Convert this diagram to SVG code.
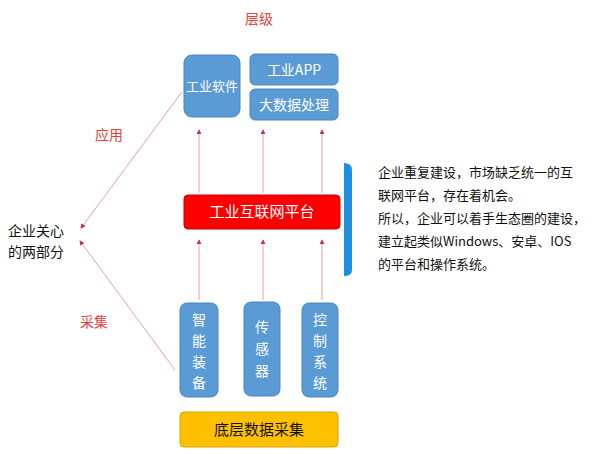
<svg xmlns="http://www.w3.org/2000/svg" width="600" height="454" viewBox="0 0 600 454">
<style>
text{font-family:"Noto Sans CJK SC","Liberation Sans",sans-serif}
.b{fill:#5b9bd5;stroke:#4a86c0;stroke-width:1}
.w{fill:#fff;font-size:14px;text-anchor:middle}
.r{fill:#e0403a;font-size:14px}
.k{fill:#111;font-size:13px}
.c line{stroke:#e8a0a8;stroke-width:1;marker-end:url(#a)}
</style>
<defs><marker id="a" viewBox="0 0 6 6" refX="5" refY="3" markerWidth="5" markerHeight="5" orient="auto"><path d="M0,0L6,3L0,6z" fill="#c0304a"/></marker></defs>
<rect width="600" height="454" fill="#fff"/>
<text class="r" x="245" y="24">层级</text>
<text class="r" x="95" y="140">应用</text>
<text class="r" x="80" y="327">采集</text>
<g id="left"><text class="k" x="8" y="236" style="font-size:14px">企业关心</text><text class="k" x="8" y="257" style="font-size:14px">的两部分</text></g>
<g class="c">
<line x1="199" y1="193" x2="199" y2="130"/><line x1="263" y1="193" x2="263" y2="130"/><line x1="322" y1="193" x2="322" y2="130"/>
<line x1="199" y1="300" x2="199" y2="240"/><line x1="263" y1="300" x2="263" y2="240"/><line x1="322" y1="300" x2="322" y2="240"/>
<line x1="182" y1="92" x2="81" y2="228"/><line x1="175" y1="370" x2="80" y2="241"/>
</g>
<g id="n1"><rect class="b" x="184" y="55" width="56" height="62" rx="8"/><text class="w" x="212" y="91" style="font-size:13px">工业软件</text></g>
<g id="n2"><rect class="b" x="250" y="54" width="88" height="31" rx="5"/><text class="w" x="294" y="75">工业APP</text></g>
<g id="n3"><rect class="b" x="250" y="89" width="88" height="31" rx="5"/><text class="w" x="294" y="110">大数据处理</text></g>
<g id="p"><rect x="184" y="195" width="156" height="34" rx="4" fill="#f00" stroke="#c00"/><text class="w" x="262" y="217" style="font-size:15px">工业互联网平台</text></g>
<g id="s1"><rect class="b" x="180" y="303" width="38" height="94" rx="7"/><text class="w" x="199" y="325">智</text><text class="w" x="199" y="346">能</text><text class="w" x="199" y="367">装</text><text class="w" x="199" y="388">备</text></g>
<g id="s2"><rect class="b" x="244" y="302" width="36" height="94" rx="7"/><text class="w" x="262" y="332">传</text><text class="w" x="262" y="354">感</text><text class="w" x="262" y="376">器</text></g>
<g id="s3"><rect class="b" x="302" y="303" width="36" height="94" rx="7"/><text class="w" x="320" y="325">控</text><text class="w" x="320" y="346">制</text><text class="w" x="320" y="367">系</text><text class="w" x="320" y="388">统</text></g>
<g id="y"><rect x="180" y="412" width="158" height="35" rx="4" fill="#ffc000" stroke="#d9a400"/><text x="259" y="435" style="font-size:15px;text-anchor:middle" fill="#111">底层数据采集</text></g>
<g id="br"><path d="M344,163 Q352,163 352,170 L352,270 Q352,276 344,276 Z" fill="#1e8fdc"/></g>
<g id="note">
<text class="k" x="378" y="177">企业重复建设，市场缺乏统一的互</text>
<text class="k" x="378" y="200">联网平台，存在着机会。</text>
<text class="k" x="378" y="223">所以，企业可以着手生态圈的建设，</text>
<text class="k" x="378" y="246">建立起类似Windows、安卓、IOS</text>
<text class="k" x="378" y="269">的平台和操作系统。</text>
</g>
</svg>
